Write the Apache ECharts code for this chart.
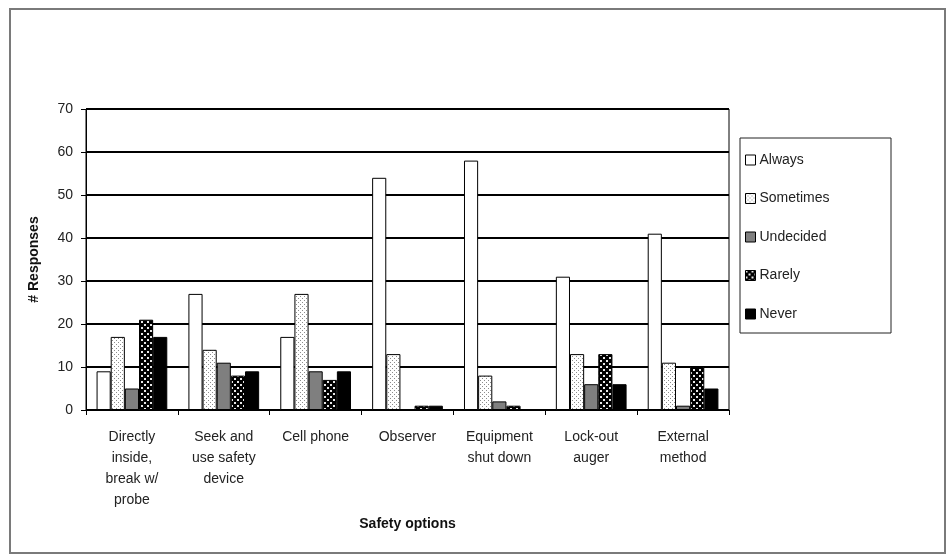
<!DOCTYPE html>
<html>
<head>
<meta charset="utf-8">
<title>Safety options</title>
<script src="https://cdn.jsdelivr.net/npm/echarts@6/dist/echarts.min.js"></script>
<style>
    html, body { margin: 0; padding: 0; background: #fff; }
    #chart { width: 950px; height: 556px; }
</style>
</head>
<body>
<div id="chart"></div>
<script>
const categories = [
    "Directly\ninside,\nbreak w/\nprobe",
    "Seek and\nuse safety\ndevice",
    "Cell phone",
    "Observer",
    "Equipment\nshut down",
    "Lock-out\nauger",
    "External\nmethod",
];
const always = [9, 27, 17, 54, 58, 31, 41];
const sometimes = [17, 14, 27, 13, 8, 13, 11];
const undecided = [5, 11, 9, 0, 2, 6, 1];
const rarely = [21, 8, 7, 1, 1, 13, 10];
const never = [17, 9, 9, 1, 0, 6, 5];

// small tiled fills standing in for the print patterns
function makePattern(bg, fg, dots, size) {
    const c = document.createElement("canvas");
    c.width = size;
    c.height = size;
    const ctx = c.getContext("2d");
    ctx.fillStyle = bg;
    ctx.fillRect(0, 0, size, size);
    ctx.fillStyle = fg;
    dots.forEach(([x, y, w]) => ctx.fillRect(x, y, w, w));
    return { image: c, repeat: "repeat" };
}
const lightDots = makePattern("#fff", "#8c8c8c", [[0, 0, 1], [2, 2, 1]], 4);
const darkCheck = makePattern("#000", "#e8e8e8", [[0, 0, 2], [3, 3, 2]], 6);

const seriesDefs = [
    { name: "Always", data: always, color: "#fff" },
    { name: "Sometimes", data: sometimes, color: lightDots },
    { name: "Undecided", data: undecided, color: "#7f7f7f" },
    { name: "Rarely", data: rarely, color: darkCheck },
    { name: "Never", data: never, color: "#000" },
];

const font = "'Liberation Sans', Arial, sans-serif";
const chart = echarts.init(document.getElementById("chart"));

chart.setOption({
    animation: false,
    textStyle: { fontFamily: font },
    grid: {
        left: 86,
        right: 221,
        top: 109,
        bottom: 146,
        show: true,
        borderColor: "#000",
        borderWidth: 1,
    },
    graphic: [
        {
            type: "rect",
            shape: { x: 10, y: 9, width: 935, height: 544 },
            style: { fill: "none", stroke: "#7a7a7a", lineWidth: 2 },
            z: -1,
        },
        {
            type: "rect",
            shape: { x: 740, y: 138, width: 151, height: 195 },
            style: { fill: "#fff", stroke: "#222", lineWidth: 1 },
            z: 0,
        },
    ],
    legend: {
        orient: "vertical",
        left: 740,
        top: 148,
        itemWidth: 10,
        itemHeight: 10,
        itemGap: 24.5,
        icon: "rect",
        z: 5,
        itemStyle: { borderColor: "#000", borderWidth: 1 },
        textStyle: { fontSize: 14, color: "#222", fontFamily: font, padding: [0, 0, 0, -1] },
        data: seriesDefs.map((s) => s.name),
    },
    xAxis: {
        type: "category",
        data: categories,
        name: "Safety options",
        nameLocation: "middle",
        nameGap: 107,
        nameTextStyle: { fontSize: 14, fontWeight: "bold", color: "#111", fontFamily: font },
        axisLine: { lineStyle: { color: "#000", width: 1 } },
        axisTick: { show: true, length: 5, lineStyle: { color: "#000" } },
        axisLabel: {
            interval: 0,
            fontSize: 14,
            color: "#222",
            lineHeight: 21,
            margin: 17,
            fontFamily: font,
        },
    },
    yAxis: {
        type: "value",
        min: 0,
        max: 70,
        interval: 10,
        name: "# Responses",
        nameLocation: "middle",
        nameGap: 45,
        nameTextStyle: { fontSize: 14, fontWeight: "bold", color: "#111", fontFamily: font },
        axisLine: { show: true, lineStyle: { color: "#000", width: 1 } },
        axisTick: { show: true, length: 5, lineStyle: { color: "#000" } },
        axisLabel: { fontSize: 14, color: "#222", margin: 13, fontFamily: font },
        splitLine: { show: true, lineStyle: { color: "#000", width: 2 } },
    },
    series: seriesDefs.map((s) => ({
        name: s.name,
        type: "bar",
        data: s.data,
        barGap: "0%",
        barCategoryGap: "23%",
        itemStyle: { color: s.color, borderColor: "#000", borderWidth: 1 },
    })),
});
</script>
</body>
</html>
